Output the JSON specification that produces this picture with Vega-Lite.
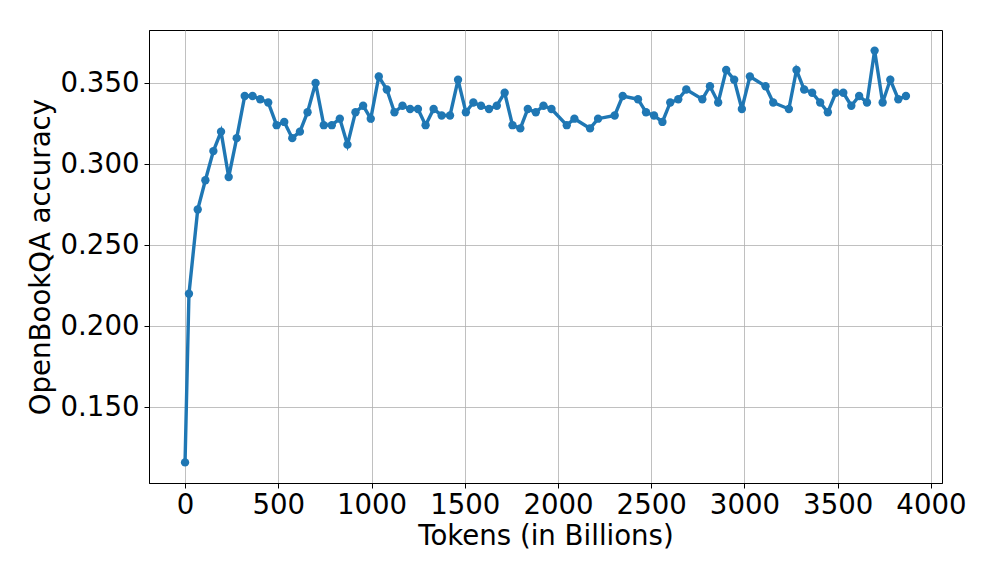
{
  "$schema": "https://vega.github.io/schema/vega-lite/v6.json",
  "autosize": "none",
  "width": 793,
  "height": 453,
  "padding": {"left": 149, "top": 30, "right": 54, "bottom": 98},
  "background": "white",
  "config": {
    "font": "DejaVu Sans",
    "view": {"stroke": "black", "strokeWidth": 1},
    "axis": {
      "gridColor": "#b0b0b0",
      "gridWidth": 0.8,
      "domainColor": "black",
      "tickColor": "black",
      "tickSize": 5,
      "labelFont": "DejaVu Sans",
      "titleFont": "DejaVu Sans",
      "labelFontSize": 27.6,
      "titleFontSize": 27.6,
      "labelColor": "black",
      "titleColor": "black",
      "titleFontWeight": "normal"
    }
  },
  "data": {"values": [
    {"t": 0, "acc": 0.116}, {"t": 21, "acc": 0.220}, {"t": 68, "acc": 0.272}, {"t": 109, "acc": 0.290},
    {"t": 152, "acc": 0.308}, {"t": 193, "acc": 0.320}, {"t": 234, "acc": 0.292}, {"t": 277, "acc": 0.316},
    {"t": 320, "acc": 0.342}, {"t": 362, "acc": 0.342}, {"t": 403, "acc": 0.340}, {"t": 446, "acc": 0.338},
    {"t": 491, "acc": 0.324}, {"t": 532, "acc": 0.326}, {"t": 575, "acc": 0.316}, {"t": 616, "acc": 0.320},
    {"t": 657, "acc": 0.332}, {"t": 700, "acc": 0.350}, {"t": 744, "acc": 0.324}, {"t": 787, "acc": 0.324},
    {"t": 830, "acc": 0.328}, {"t": 871, "acc": 0.312}, {"t": 914, "acc": 0.332}, {"t": 955, "acc": 0.336},
    {"t": 996, "acc": 0.328}, {"t": 1039, "acc": 0.354}, {"t": 1082, "acc": 0.346}, {"t": 1123, "acc": 0.332},
    {"t": 1166, "acc": 0.336}, {"t": 1207, "acc": 0.334}, {"t": 1249, "acc": 0.334}, {"t": 1290, "acc": 0.324},
    {"t": 1333, "acc": 0.334}, {"t": 1376, "acc": 0.330}, {"t": 1421, "acc": 0.330}, {"t": 1464, "acc": 0.352},
    {"t": 1506, "acc": 0.332}, {"t": 1546, "acc": 0.338}, {"t": 1587, "acc": 0.336}, {"t": 1630, "acc": 0.334},
    {"t": 1672, "acc": 0.336}, {"t": 1714, "acc": 0.344}, {"t": 1756, "acc": 0.324}, {"t": 1798, "acc": 0.322},
    {"t": 1838, "acc": 0.334}, {"t": 1881, "acc": 0.332}, {"t": 1922, "acc": 0.336}, {"t": 1965, "acc": 0.334},
    {"t": 2047, "acc": 0.324}, {"t": 2088, "acc": 0.328}, {"t": 2172, "acc": 0.322}, {"t": 2215, "acc": 0.328},
    {"t": 2304, "acc": 0.330}, {"t": 2347, "acc": 0.342}, {"t": 2429, "acc": 0.340}, {"t": 2472, "acc": 0.332},
    {"t": 2515, "acc": 0.330}, {"t": 2560, "acc": 0.326}, {"t": 2602, "acc": 0.338}, {"t": 2645, "acc": 0.340},
    {"t": 2688, "acc": 0.346}, {"t": 2774, "acc": 0.340}, {"t": 2815, "acc": 0.348}, {"t": 2859, "acc": 0.338},
    {"t": 2902, "acc": 0.358}, {"t": 2945, "acc": 0.352}, {"t": 2986, "acc": 0.334}, {"t": 3029, "acc": 0.354},
    {"t": 3113, "acc": 0.348}, {"t": 3154, "acc": 0.338}, {"t": 3238, "acc": 0.334}, {"t": 3279, "acc": 0.358},
    {"t": 3320, "acc": 0.346}, {"t": 3363, "acc": 0.344}, {"t": 3406, "acc": 0.338}, {"t": 3447, "acc": 0.332},
    {"t": 3490, "acc": 0.344}, {"t": 3530, "acc": 0.344}, {"t": 3573, "acc": 0.336}, {"t": 3615, "acc": 0.342},
    {"t": 3657, "acc": 0.338}, {"t": 3698, "acc": 0.370}, {"t": 3741, "acc": 0.338}, {"t": 3782, "acc": 0.352},
    {"t": 3825, "acc": 0.340}, {"t": 3866, "acc": 0.342}
  ]},
  "mark": {"type": "line", "color": "#1f77b4", "strokeWidth": 3.4, "point": {"filled": true, "size": 70, "color": "#1f77b4", "opacity": 1}},
  "encoding": {
    "x": {
      "field": "t", "type": "quantitative",
      "scale": {"domain": [-193.3, 4059.3], "nice": false, "zero": false},
      "axis": {"title": "Tokens (in Billions)", "values": [0, 500, 1000, 1500, 2000, 2500, 3000, 3500, 4000], "format": "d", "labelPadding": 3, "titlePadding": 4}
    },
    "y": {
      "field": "acc", "type": "quantitative",
      "scale": {"domain": [0.1033, 0.3827], "nice": false, "zero": false},
      "axis": {"title": "OpenBookQA accuracy", "values": [0.15, 0.2, 0.25, 0.3, 0.35], "format": ".3f", "labelPadding": 5, "titlePadding": 5}
    }
  }
}
